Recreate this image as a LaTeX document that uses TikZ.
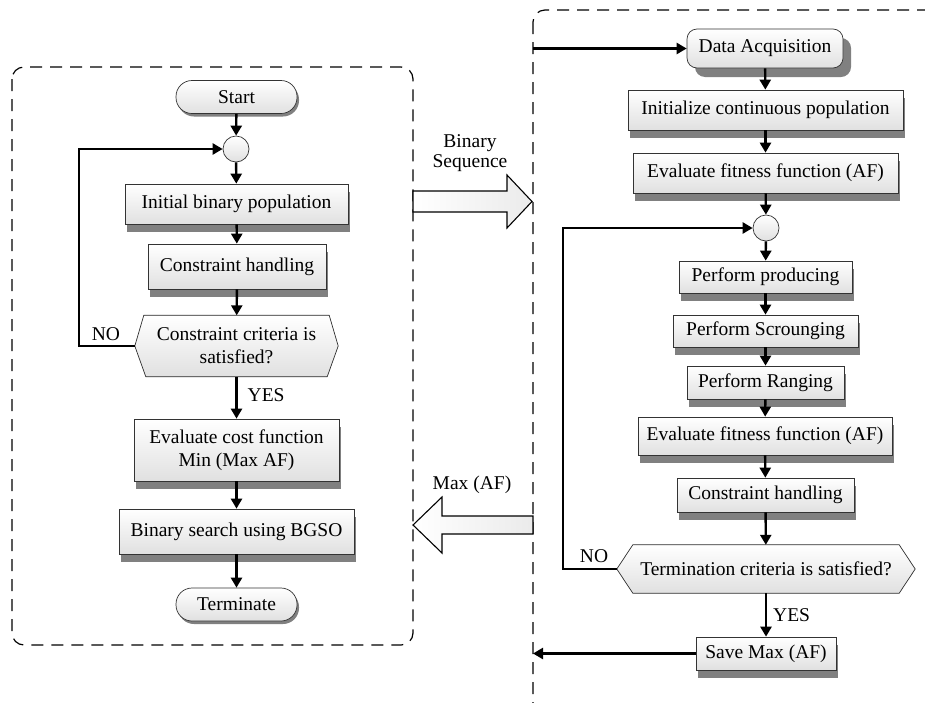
\documentclass[tikz,border=0pt]{standalone}
\usepackage{fontspec}
\setmainfont{Liberation Serif}
\usetikzlibrary{shadows,arrows.meta,calc,backgrounds}
\begin{document}
\begin{tikzpicture}[x=1pt,y=-1pt,
  font=\fontsize{19.5}{23}\selectfont,
  shadowA/.style={drop shadow={shadow xshift=2pt,shadow yshift=-8pt,fill=black!50,opacity=1}},
  shadowB/.style={drop shadow={shadow xshift=8pt,shadow yshift=-9pt,fill=black!50,opacity=1}},
  shadowC/.style={drop shadow={shadow xshift=2pt,shadow yshift=-3pt,fill=black!50,opacity=1}},
  boxfill/.style={draw=black!80,line width=0.7pt,top color=white,bottom color=black!12},
  proc/.style={boxfill,shadowA,inner sep=0pt,align=center},
  term/.style={boxfill,shadowC,inner sep=0pt,rounded corners=16pt,minimum width=121,minimum height=33},
  joint/.style={circle,draw=black!80,line width=0.7pt,top color=white,bottom color=black!12,minimum size=26,inner sep=0pt},
  hexnode/.style={inner sep=0pt,align=center},
  arr/.style={line width=2.4pt,-{Triangle[length=10pt,width=11pt]}},
  panel/.style={line width=1.2pt,dash pattern=on 12pt off 8pt,rounded corners=12pt},
  blockarrow/.style={draw=black,line width=1.1pt,left color=white,right color=black!8},
  lbl/.style={inner sep=0pt}
]
\useasboundingbox (0,0) rectangle (925,702);

% panels
\draw[panel] (12,67) rectangle (413,645);
\begin{scope}
\clip (0,0) rectangle (925,702);
\draw[panel] (533,10) rectangle (965,740);
\end{scope}

% ---------------- left panel ----------------
\node[term] (start) at (236.5,97) {Start};
\node[joint] (c1) at (236,149) {};
\node[proc,minimum width=223,minimum height=40] (ibp) at (236.5,204) {Initial binary population};
\node[proc,minimum width=178,minimum height=45] (ch1) at (237,266.5) {Constraint handling};
\node[hexnode,minimum width=203,minimum height=61] (h1) at (236.5,346) {Constraint criteria is\\satisfied?};
\node[proc,minimum width=205,minimum height=62] (ecf) at (236.5,450) {Evaluate cost function\\Min (Max AF)};
\node[proc,minimum width=235,minimum height=45] (bs) at (236.5,531.5) {Binary search using BGSO};
\node[term] (termn) at (236.5,604.5) {Terminate};

% ---------------- right panel ----------------
\node[boxfill,shadowB,inner sep=0pt,rounded corners=10pt,minimum width=156,minimum height=39] (da) at (765,48.5) {Data Acquisition};
\node[proc,minimum width=275,minimum height=40] (icp) at (765.5,110) {Initialize continuous population};
\node[proc,minimum width=265,minimum height=40] (eff1) at (765.5,173) {Evaluate fitness function (AF)};
\node[joint] (c2) at (766,228) {};
\node[proc,minimum width=173,minimum height=32] (pp) at (765.5,277) {Perform producing};
\node[proc,minimum width=185,minimum height=32] (ps) at (765.5,331) {Perform Scrounging};
\node[proc,minimum width=157,minimum height=33] (pr) at (765.5,382.5) {Perform Ranging};
\node[proc,minimum width=254,minimum height=38] (eff2) at (765,436) {Evaluate fitness function (AF)};
\node[proc,minimum width=177,minimum height=34] (ch2) at (765.5,495) {Constraint handling};
\node[hexnode,minimum width=298,minimum height=48] (h2) at (766,569) {Termination criteria is satisfied?};
\node[proc,minimum width=140,minimum height=33] (sm) at (766,653.5) {Save Max (AF)};

% hexagons (drawn behind their text)
\begin{scope}[on background layer]
  \fill[black!50,xshift=2pt,yshift=-8pt] (h1.west) -- ([xshift=9pt]h1.north west) -- ([xshift=-9pt]h1.north east) -- (h1.east) -- ([xshift=-11pt]h1.south east) -- ([xshift=11pt]h1.south west) -- cycle;
  \shade[boxfill] (h1.west) -- ([xshift=9pt]h1.north west) -- ([xshift=-9pt]h1.north east) -- (h1.east) -- ([xshift=-11pt]h1.south east) -- ([xshift=11pt]h1.south west) -- cycle;
  \fill[black!50,xshift=2pt,yshift=-8pt] (h2.west) -- ([xshift=16pt]h2.north west) -- ([xshift=-16pt]h2.north east) -- (h2.east) -- ([xshift=-16pt]h2.south east) -- ([xshift=16pt]h2.south west) -- cycle;
  \shade[boxfill] (h2.west) -- ([xshift=16pt]h2.north west) -- ([xshift=-16pt]h2.north east) -- (h2.east) -- ([xshift=-16pt]h2.south east) -- ([xshift=16pt]h2.south west) -- cycle;
\end{scope}

% left connectors
\draw[arr] (start) -- (c1);
\draw[arr] (c1) -- (ibp);
\draw[arr] (ibp) -- (ch1);
\draw[arr] (ch1) -- (h1);
\draw[arr] (h1) -- node[lbl,right=10pt,pos=0.45] {YES} (ecf);
\draw[arr] (ecf) -- (bs);
\draw[arr] (bs) -- (termn);
\coordinate (L1) at (79,346);
\draw[arr] (h1.west) -- (L1) |- (c1.west);
\node[lbl] (no1) at (106,334) {NO};

% right connectors
\coordinate (E1) at (533,48.5);
\draw[arr] (E1) -- (da);
\draw[arr] (da) -- (icp);
\draw[arr] (icp) -- (eff1);
\draw[arr] (eff1) -- (c2);
\draw[arr] (c2) -- (pp);
\draw[arr] (pp) -- (ps);
\draw[arr] (ps) -- (pr);
\draw[arr] (pr) -- (eff2);
\draw[arr] (eff2) -- (ch2);
\draw[arr] (ch2) -- (h2);
\draw[arr] (h2) -- node[lbl,right=6pt,pos=0.5] {YES} (sm);
\coordinate (L2) at (563,569);
\draw[arr] (h2.west) -- (L2) |- (c2.west);
\node[lbl] (no2) at (594,556) {NO};
\coordinate (E2) at (533,653.5);
\draw[arr] (sm) -- (E2);

% block arrows between panels
\draw[blockarrow] (413,191) -- (507,191) -- (507,175) -- (532,201.5) -- (507,228) -- (507,212) -- (413,212) -- cycle;
\node[lbl,align=center,font=\fontsize{19.5}{20}\selectfont] (bsq) at (470,153) {Binary\\Sequence};
\draw[blockarrow] (533,516) -- (442,516) -- (442,497) -- (413,525) -- (442,553) -- (442,534) -- (533,534) -- cycle;
\node[lbl] (maf) at (472,485) {Max (AF)};
\end{tikzpicture}
\end{document}
